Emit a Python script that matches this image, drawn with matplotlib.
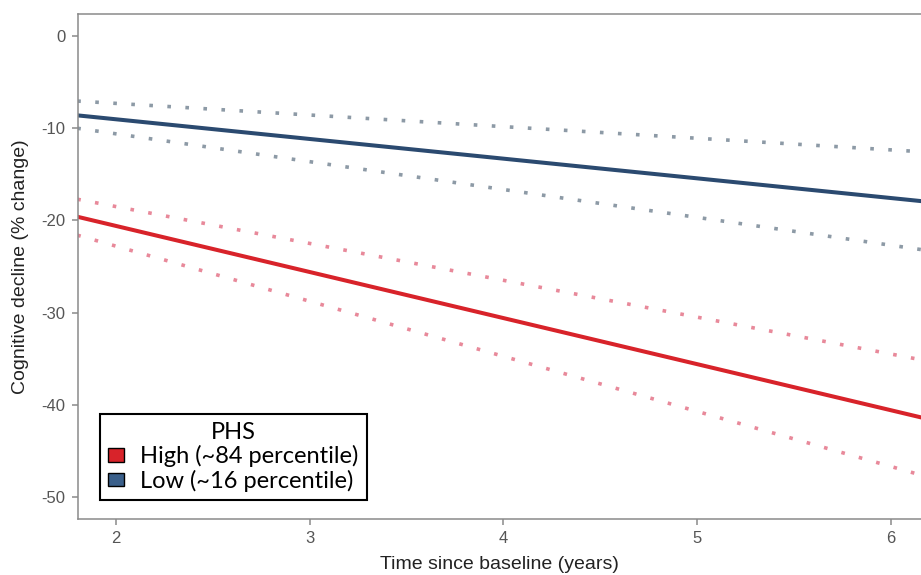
import matplotlib
matplotlib.use("Agg")
import matplotlib.pyplot as plt
from matplotlib.patches import Patch

# straight model lines, read at the two ends of the visible time range
time_years = [1.8, 6.2]
high_mean = [-19.6, -41.6]
high_upper = [-17.7, -35.3]
high_lower = [-21.6, -47.9]
low_mean = [-8.6, -18.0]
low_upper = [-7.05, -12.6]
low_lower = [-10.0, -23.3]

x_ticks = [2, 3, 4, 5, 6]
y_ticks = [0, -10, -20, -30, -40, -50]
group_labels = ["High (~84 percentile)", "Low (~16 percentile)"]

red = "#d8232a"
blue = "#2b4a70"
red_ci = "#e8899a"
blue_ci = "#8d9aa6"

plt.rcParams["font.family"] = ["Liberation Sans", "DejaVu Sans"]

fig = plt.figure(figsize=(9.21, 5.75), dpi=100)
ax = fig.add_axes([0.0847, 0.0974, 0.9153, 0.8783])

dots = (0, (1, 4))
ax.plot(time_years, low_upper, color=blue_ci, lw=2.6, ls=dots, dash_capstyle="butt")
ax.plot(time_years, low_lower, color=blue_ci, lw=2.6, ls=dots, dash_capstyle="butt")
ax.plot(time_years, high_upper, color=red_ci, lw=2.6, ls=dots, dash_capstyle="butt")
ax.plot(time_years, high_lower, color=red_ci, lw=2.6, ls=dots, dash_capstyle="butt")
ax.plot(time_years, low_mean, color=blue, lw=2.9, solid_capstyle="butt")
ax.plot(time_years, high_mean, color=red, lw=2.9, solid_capstyle="butt")

ax.set_xlim(1.804, 6.155)
ax.set_ylim(-52.4, 2.4)
ax.set_xticks(x_ticks)
ax.set_yticks(y_ticks)
ax.set_yticklabels([str(v) for v in y_ticks])

for side in ["left", "bottom", "top"]:
    ax.spines[side].set_color("#8a8a8a")
    ax.spines[side].set_linewidth(1.1)
ax.spines["right"].set_visible(False)
ax.tick_params(colors="#8a8a8a", labelcolor="#555555", labelsize=12, length=4, width=1.1, pad=5)

ax.set_xlabel("Time since baseline (years)", fontsize=14, color="#222222", labelpad=7)
ax.set_ylabel("Cognitive decline (% change)", fontsize=14, color="#222222", labelpad=9)

handles = [Patch(facecolor=red, edgecolor="black", lw=1),
           Patch(facecolor="#3a5f8a", edgecolor="black", lw=1)]
leg = ax.legend(handles, group_labels, title="PHS", loc="lower left",
                bbox_to_anchor=(0.1086, 0.1304), bbox_transform=fig.transFigure,
                borderaxespad=0, fancybox=False, framealpha=1, edgecolor="black",
                prop={"family": "Lato", "size": 17},
                title_fontproperties={"family": "Lato", "size": 17},
                handlelength=0.65, handleheight=0.5, handletextpad=0.7,
                labelspacing=0.1, borderpad=0.35)
leg.get_frame().set_linewidth(1.5)

fig.savefig("out.png", dpi=100)
